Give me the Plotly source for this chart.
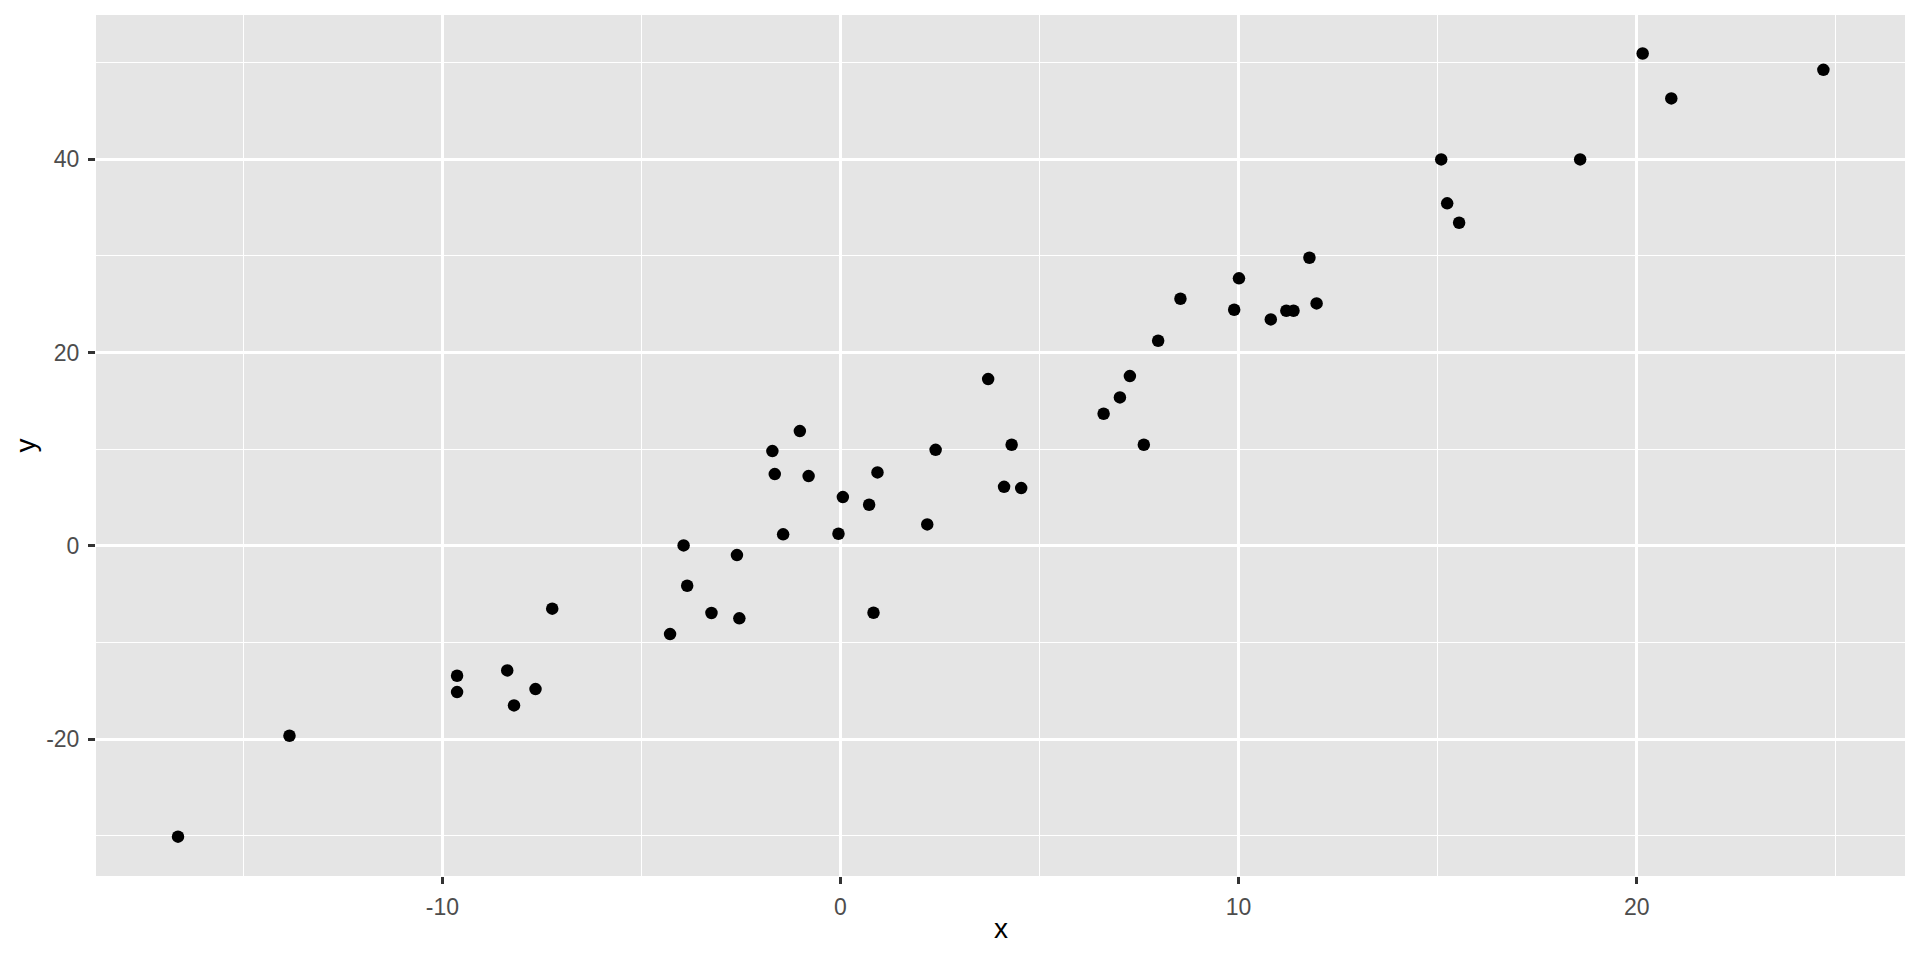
import plotly.graph_objects as go

# Data
x_vals = [-16.64, -13.84, -9.63, -9.63, -8.37, -8.20, -7.66, -7.24,
          -4.28, -3.94, -3.85, -3.24, -2.60, -2.54, -1.71, -1.65,
          -1.44, -1.02, -0.80, -0.05, 0.06, 0.72, 0.83, 0.93,
          2.18, 2.39, 3.71, 4.11, 4.30, 4.54, 6.61, 7.02,
          7.27, 7.62, 7.98, 8.54, 9.89, 10.01, 10.81, 11.20,
          11.38, 11.78, 11.96, 15.09, 15.24, 15.54, 18.58, 20.15,
          20.87, 24.69]
y_vals = [-30.1, -19.66, -13.45, -15.14, -12.9, -16.52, -14.83, -6.51,
          -9.14, 0.04, -4.14, -6.96, -0.96, -7.51, 9.80, 7.42,
          1.18, 11.87, 7.21, 1.24, 5.04, 4.24, -6.93, 7.59,
          2.21, 9.93, 17.25, 6.10, 10.45, 5.97, 13.66, 15.35,
          17.56, 10.45, 21.21, 25.56, 24.42, 27.67, 23.42, 24.32,
          24.32, 29.8, 25.08, 39.98, 35.43, 33.42, 39.98, 50.94,
          46.29, 49.25]

x_major = [-10, 0, 10, 20]
x_minor = [-15, -5, 5, 15, 25]
y_major = [-20, 0, 20, 40]
y_minor = [-30, -10, 10, 30, 50]

x_range = [-18.70, 26.74]
y_range = [-34.17, 54.92]

x_title = "x"
y_title = "y"

fig = go.Figure()
fig.add_trace(go.Scatter(
    x=x_vals, y=y_vals, mode="markers",
    marker=dict(color="black", size=12.5, line=dict(width=0)),
    showlegend=False, hoverinfo="x+y",
))

FONT = "Liberation Sans, Arial, sans-serif"
tickfont = dict(family=FONT, size=23, color="#4D4D4D")
titlefont = dict(family=FONT, size=28, color="black")

common = dict(
    showline=False, zeroline=False, automargin=False,
    showgrid=True, gridcolor="white", gridwidth=2.5,
    ticks="outside", ticklen=7, tickwidth=2.6, tickcolor="#333333",
    tickfont=tickfont,
)

fig.update_layout(
    template="none",
    width=1920, height=960,
    paper_bgcolor="white", plot_bgcolor="#E5E5E5",
    margin=dict(l=96, r=15, t=15, b=84, pad=0),
    xaxis=dict(
        range=x_range, tickmode="array", tickvals=x_major,
        ticktext=[str(v) for v in x_major],
        minor=dict(tickmode="array", tickvals=x_minor, showgrid=True,
                   gridcolor="white", gridwidth=1.25, ticks=""),
        ticklabelstandoff=3,
        **common,
    ),
    yaxis=dict(
        range=y_range, tickmode="array", tickvals=y_major,
        ticktext=[str(v) for v in y_major],
        minor=dict(tickmode="array", tickvals=y_minor, showgrid=True,
                   gridcolor="white", gridwidth=1.25, ticks=""),
        ticklabelstandoff=4,
        **common,
    ),
    annotations=[
        dict(text=x_title, xref="paper", yref="paper", x=0.5, y=-0.0604,
             xanchor="center", yanchor="middle", showarrow=False, font=titlefont),
        dict(text=y_title, xref="paper", yref="paper", x=-0.0387, y=0.5,
             xanchor="center", yanchor="middle", textangle=-90,
             showarrow=False, font=titlefont),
    ],
)

fig.write_html(
    "out.html",
    config={"displayModeBar": False},
    post_script="document.body.style.margin='0';document.body.style.overflow='hidden';",
)
